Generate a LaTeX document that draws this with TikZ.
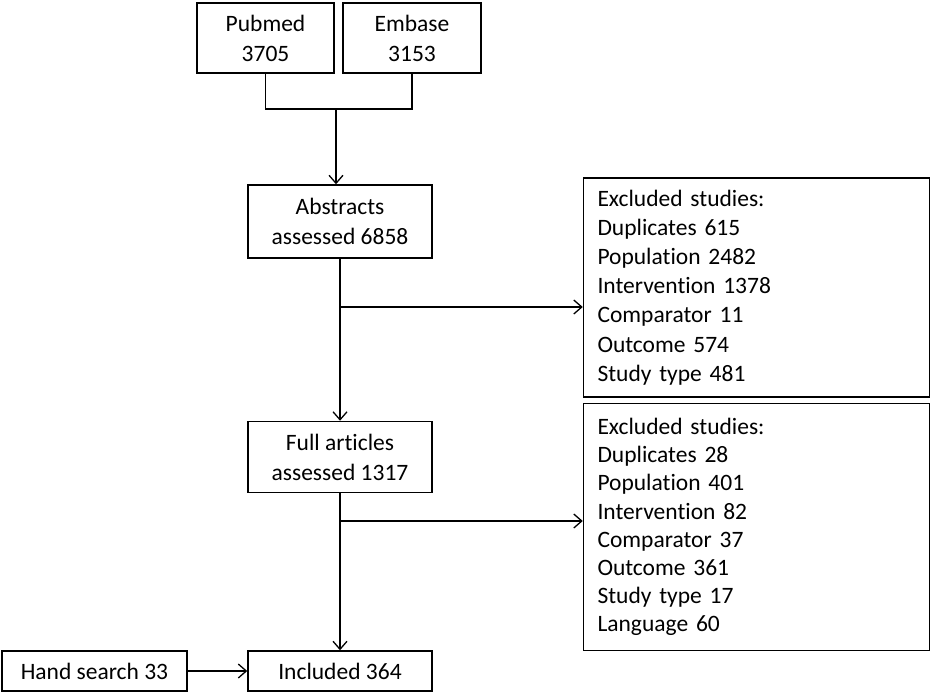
\documentclass[tikz,border=0pt]{standalone}
\usepackage{fontspec}
\setmainfont{Carlito}[Ligatures=NoCommon]
\usetikzlibrary{arrows.meta}
\begin{document}
\begin{tikzpicture}[x=1pt,y=-1pt,
  box/.style={draw,line width=1.5pt,inner sep=0pt,align=center,font=\fontsize{23.5}{30}\selectfont},
  exbox/.style={draw,line width=1.5pt,inner xsep=14pt,inner ysep=0pt,align=left,text width=318pt,
    minimum width=346pt},
  conn/.style={line width=1.5pt},
  arr/.style={line width=1.5pt,-{Straight Barb[length=8pt,width=14pt,line width=1.3pt]}}]
\useasboundingbox (0,0) rectangle (931,693);
\node[box,minimum width=137pt,minimum height=70pt] (pub) at (265.5,38) {Pubmed\\3705};
\node[box,minimum width=138pt,minimum height=70pt] (emb) at (412,38) {Embase\\3153};
\node[box,minimum width=184pt,minimum height=73pt] (abs) at (340,221.5) {Abstracts\\assessed 6858};
\node[box,minimum width=184pt,minimum height=71pt] (full) at (340,457) {Full articles\\assessed 1317};
\node[box,minimum width=184pt,minimum height=40pt] (inc) at (340,671) {Included 364};
\node[box,minimum width=185pt,minimum height=40pt] (hand) at (94.5,671) {Hand search 33};
\node[exbox,minimum height=219pt,font=\fontsize{23.5}{29.2}\selectfont] (ex1) at (756.5,287.5) {Excluded studies:\\Duplicates 615\\Population 2482\\Intervention 1378\\Comparator 11\\Outcome 574\\Study type 481};
\node[exbox,minimum height=247pt,font=\fontsize{23.5}{28.1}\selectfont] (ex2) at (756.5,527) {Excluded studies:\\Duplicates 28\\Population 401\\Intervention 82\\Comparator 37\\Outcome 361\\Study type 17\\Language 60};
\coordinate (m) at (336,109);
\draw[conn] (pub.south) |- (m) -| (emb.south);
\draw[arr] (m) -- (m |- abs.north);
\draw[arr] (abs.south) -- (full.north);
\coordinate (b1) at (abs.south |- 0,307);
\draw[arr] (b1) -- (b1 -| ex1.west);
\draw[arr] (full.south) -- (inc.north);
\coordinate (b2) at (full.south |- 0,521);
\draw[arr] (b2) -- (b2 -| ex2.west);
\draw[arr] (hand.east) -- (inc.west);
\end{tikzpicture}
\end{document}
